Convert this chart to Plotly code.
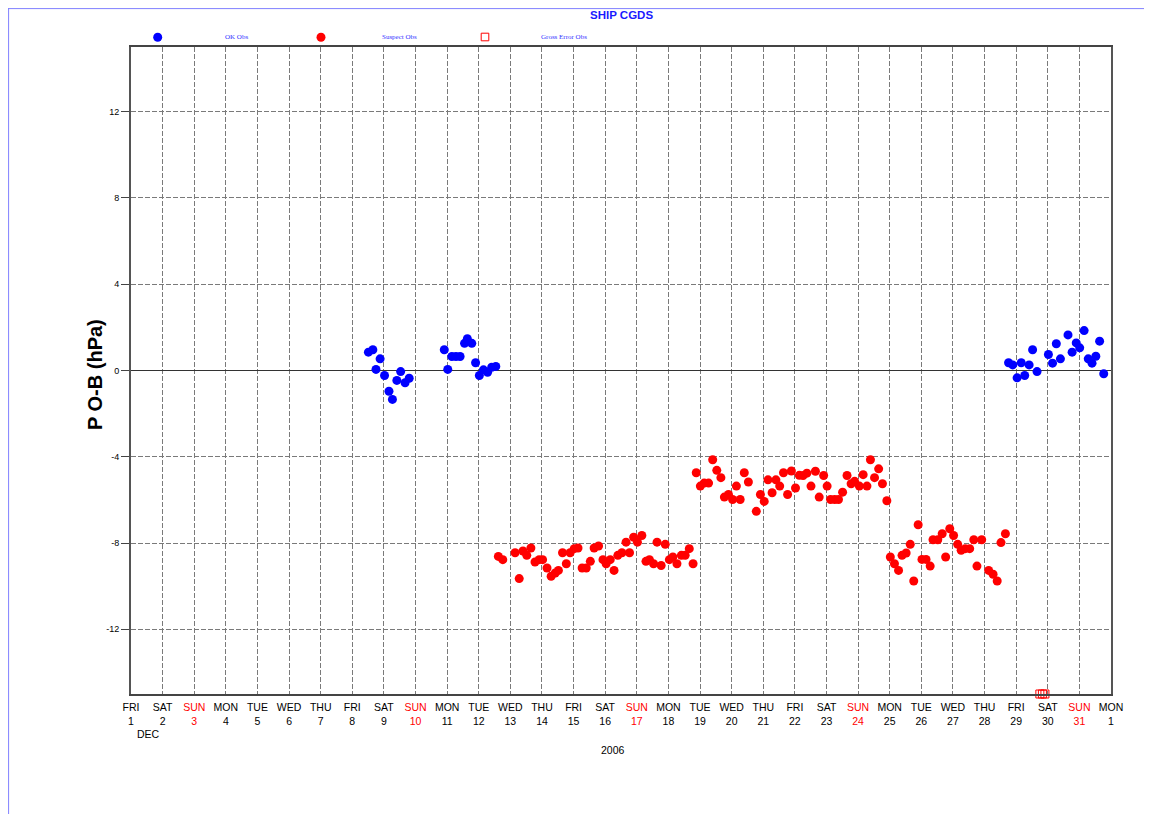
import plotly.graph_objects as go
import pandas as pd

START = pd.Timestamp("2006-12-01")

# days since 2006-12-01 00:00 UTC, and O-B values (hPa)
ok_days = [7.51, 7.65, 7.88, 7.75, 8.02, 8.16, 8.27, 8.41, 8.53, 8.67, 8.80,
           9.91, 10.02, 10.15, 10.28, 10.41, 10.55, 10.64, 10.78, 10.90, 11.02, 11.15, 11.28, 11.41, 11.54,
           27.76, 27.89, 28.03, 28.16, 28.27, 28.41, 28.52, 28.66, 29.02, 29.15, 29.27, 29.40,
           29.64, 29.77, 29.90, 30.01, 30.15, 30.28, 30.40, 30.52, 30.64, 30.77]
ok_vals = [0.85, 0.96, 0.54, 0.05, -0.23, -0.96, -1.34, -0.46, -0.05, -0.57, -0.36,
           0.96, 0.05, 0.65, 0.65, 0.65, 1.26, 1.47, 1.26, 0.36, -0.23, 0.03, -0.08, 0.15, 0.19,
           0.36, 0.26, -0.34, 0.36, -0.23, 0.26, 0.96, -0.05, 0.74, 0.34, 1.24, 0.54,
           1.65, 0.85, 1.28, 1.05, 1.85, 0.54, 0.34, 0.66, 1.36, -0.15]

sus_days = [11.62, 11.76, 12.15, 12.28, 12.40, 12.52, 12.65, 12.78, 12.91, 13.02, 13.16, 13.29,
            13.42, 13.52, 13.65, 13.77, 13.89, 14.02, 14.14, 14.27, 14.40, 14.53, 14.65, 14.79,
            14.93, 15.03, 15.16, 15.28, 15.40, 15.53, 15.66, 15.77, 15.90, 16.02, 16.16, 16.29,
            16.40, 16.53, 16.64, 16.77, 16.90, 17.03, 17.14, 17.27, 17.41, 17.53, 17.66, 17.78,
            17.88, 18.01, 18.13, 18.27, 18.40, 18.53, 18.66, 18.77, 18.90, 19.03, 19.15, 19.27,
            19.40, 19.53, 19.78, 19.91, 20.03, 20.15, 20.28, 20.40, 20.52, 20.64, 20.77, 20.89,
            21.02, 21.14, 21.26, 21.38, 21.51, 21.65, 21.77, 21.91, 22.02, 22.13, 22.26, 22.38,
            22.51, 22.65, 22.78, 22.89, 23.04, 23.16, 23.28, 23.39, 23.52, 23.65, 23.77, 23.91,
            24.02, 24.15, 24.28, 24.39, 24.52, 24.65, 24.76, 24.90, 25.02, 25.15, 25.28, 25.37,
            25.52, 25.66, 25.77, 25.90, 26.02, 26.15, 26.26, 26.39, 26.53, 26.66, 26.76, 26.91,
            27.13, 27.27, 27.40, 27.52, 27.66]
sus_vals = [-8.62, -8.77, -8.45, -9.65, -8.37, -8.57, -8.23, -8.88, -8.77, -8.77, -9.16, -9.54,
            -9.39, -9.27, -8.45, -8.96, -8.45, -8.26, -8.23, -9.16, -9.16, -8.85, -8.23, -8.14,
            -8.77, -8.96, -8.77, -9.27, -8.57, -8.45, -7.96, -8.45, -7.73, -7.96, -7.65, -8.85,
            -8.77, -8.96, -7.96, -9.04, -8.06, -8.77, -8.65, -8.96, -8.57, -8.57, -8.26, -8.96,
            -4.74, -5.36, -5.22, -5.22, -4.14, -4.63, -4.97, -5.87, -5.75, -5.98, -5.36, -5.98,
            -4.74, -5.17, -6.53, -5.75, -6.07, -5.07, -5.67, -5.07, -5.36, -4.74, -5.75, -4.66,
            -5.45, -4.86, -4.87, -4.76, -5.36, -4.67, -5.87, -4.87, -5.36, -5.98, -5.98, -5.98,
            -5.64, -4.87, -5.25, -5.14, -5.36, -4.83, -5.36, -4.14, -4.97, -4.56, -5.25, -6.04,
            -8.65, -8.96, -9.27, -8.57, -8.46, -8.06, -9.76, -7.15, -8.76, -8.76, -9.07, -7.85,
            -7.85, -7.57, -8.65, -7.34, -7.65, -8.06, -8.34, -8.26, -8.26, -7.85, -9.07, -7.85,
            -9.27, -9.45, -9.76, -7.98, -7.57]

gross_days = [28.75, 28.83, 28.91]
gross_vals = [-15.0, -15.0, -15.0]

weekday_labels = ["FRI", "SAT", "SUN", "MON", "TUE", "WED", "THU"] * 4 + ["FRI", "SAT", "SUN", "MON"]
day_labels = [str(d) for d in range(1, 32)] + ["1"]

y_ticks = [-12, -8, -4, 0, 4, 8, 12]


def to_dates(days):
    return [START + pd.Timedelta(days=d) for d in days]


tick_dates = [START + pd.Timedelta(days=i) for i in range(len(weekday_labels))]
tick_text = []
for wd, dl in zip(weekday_labels, day_labels):
    if wd == "SUN":
        tick_text.append(f"<span style='color:#ff0000'>{wd}<br>{dl}</span>")
    else:
        tick_text.append(f"{wd}<br>{dl}")

fig = go.Figure()
fig.add_trace(go.Scatter(x=to_dates(ok_days), y=ok_vals, mode="markers",
                         marker=dict(color="#0000ff", size=9, line=dict(width=0)),
                         name="OK Obs"))
fig.add_trace(go.Scatter(x=to_dates(sus_days), y=sus_vals, mode="markers",
                         marker=dict(color="#ff0000", size=9, line=dict(width=0)),
                         name="Suspect Obs"))
fig.add_trace(go.Scatter(x=to_dates(gross_days), y=gross_vals, mode="markers",
                         marker=dict(symbol="square-open", color="#ff0000", size=8,
                                     line=dict(width=1, color="#ff0000")),
                         cliponaxis=False, name="Gross Error Obs"))

W, H = 1144, 806
ML, MR, MT, MB = 123, 41, 39, 120
PW = W - ML - MR
PH = H - MT - MB


def px(page_x):
    return (page_x - 131) / PW


def py(page_y):
    return (694 - page_y) / PH


fig.update_layout(
    width=W, height=H,
    margin=dict(l=ML, r=MR, t=MT, b=MB, pad=0),
    paper_bgcolor="white", plot_bgcolor="white",
    showlegend=False,
    font=dict(family="Liberation Sans, Arial, sans-serif", color="black"),
    xaxis=dict(
        range=[START, START + pd.Timedelta(days=31)],
        tickmode="array", tickvals=tick_dates, ticktext=tick_text,
        tickfont=dict(size=10.5, color="black"),
        ticklabelstandoff=3,
        showgrid=True, gridcolor="#7a7a7a", griddash="5px,2px", gridwidth=1,
        showline=True, linecolor="#444444", linewidth=1.5, mirror=True,
        ticks="", zeroline=False,
    ),
    yaxis=dict(
        range=[-15, 15], tickmode="array", tickvals=y_ticks,
        ticktext=[str(v) for v in y_ticks],
        tickfont=dict(size=9, color="black"),
        ticks="outside", ticklen=8, tickcolor="#444444",
        showgrid=True, gridcolor="#7a7a7a", griddash="5px,2px", gridwidth=1,
        showline=True, linecolor="#555555", linewidth=2, mirror=True,
        zeroline=True, zerolinecolor="#333333", zerolinewidth=1,
    ),
)

annotations = [
    dict(text="<b>SHIP CGDS</b>", x=px(621), y=py(15), font=dict(size=11.5, color="#1a1aff")),
    dict(text="OK Obs", x=px(236.7), y=py(37.5), font=dict(size=7, color="#3333ff", family="Liberation Serif, serif")),
    dict(text="Suspect Obs", x=px(399.5), y=py(37.5), font=dict(size=7, color="#3333ff", family="Liberation Serif, serif")),
    dict(text="Gross Error Obs", x=px(564), y=py(37.5), font=dict(size=7, color="#3333ff", family="Liberation Serif, serif")),
    dict(text="DEC", x=px(148), y=py(734), font=dict(size=10.5, color="black")),
    dict(text="2006", x=px(613), y=py(750), font=dict(size=10.5, color="black")),
    dict(text="<b>P O-B (hPa)</b>", x=px(95), y=py(375), textangle=-90, font=dict(size=20, color="black")),
]
for a in annotations:
    a.update(xref="paper", yref="paper", showarrow=False, xanchor="center", yanchor="middle")
fig.update_layout(annotations=annotations)

shapes = [
    dict(type="circle", xref="paper", yref="paper", xsizemode="pixel", ysizemode="pixel",
         xanchor=px(157.7), yanchor=py(37.3), x0=-4.5, x1=4.5, y0=-4.5, y1=4.5,
         fillcolor="#0000ff", line=dict(width=0)),
    dict(type="circle", xref="paper", yref="paper", xsizemode="pixel", ysizemode="pixel",
         xanchor=px(321), yanchor=py(37.3), x0=-4.5, x1=4.5, y0=-4.5, y1=4.5,
         fillcolor="#ff0000", line=dict(width=0)),
    dict(type="rect", xref="paper", yref="paper", xsizemode="pixel", ysizemode="pixel",
         xanchor=px(485), yanchor=py(37), x0=-3.8, x1=3.8, y0=-3.8, y1=3.8,
         fillcolor="rgba(0,0,0,0)", line=dict(width=1, color="#ff0000")),
    # blue page frame
    dict(type="line", xref="paper", yref="paper", x0=-ML / PW + 0.6 / PW, x1=-ML / PW + 0.6 / PW,
         y0=-MB / PH, y1=1 + MT / PH, line=dict(width=1, color="#8080ff")),
    dict(type="line", xref="paper", yref="paper", x0=-ML / PW, x1=1 + MR / PW,
         y0=1 + MT / PH - 0.6 / PH, y1=1 + MT / PH - 0.6 / PH, line=dict(width=1, color="#8080ff")),
]
fig.update_layout(shapes=shapes)

fig.write_html("out.html")
